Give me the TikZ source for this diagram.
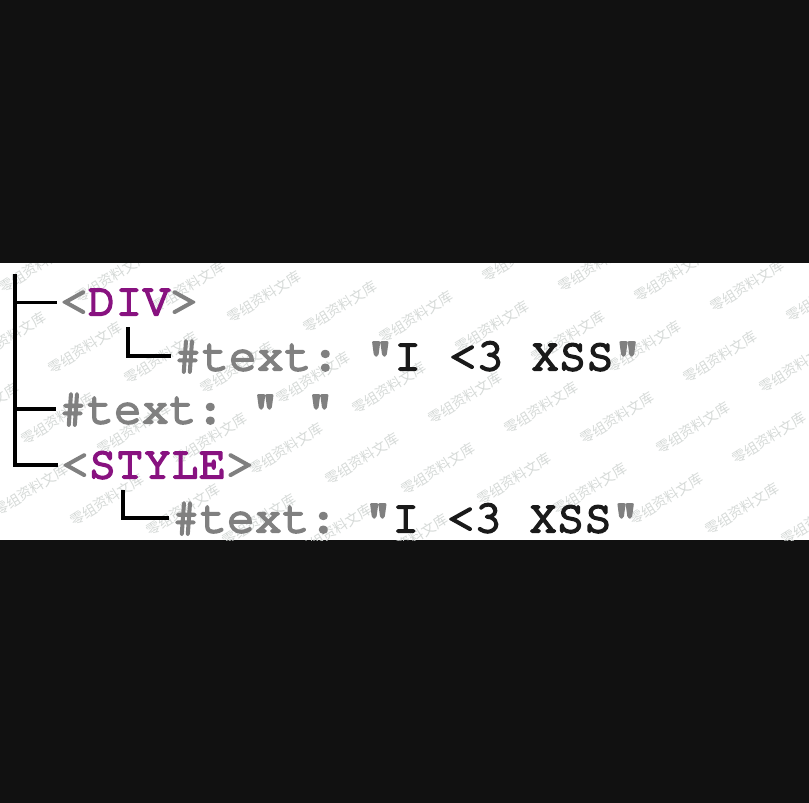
\documentclass[tikz,border=0pt]{standalone}
\usepackage[T1]{fontenc}
\usepackage{fontspec}
\newfontfamily\cjkmark{Noto Sans CJK SC}
\definecolor{bgdark}{HTML}{111111}
\definecolor{paper}{HTML}{FFFFFF}
\definecolor{tagGray}{HTML}{808080}
\definecolor{tagPurple}{HTML}{881280}
\definecolor{ink}{HTML}{1A1A1A}
\definecolor{treeInk}{HTML}{000000}
\definecolor{markInk}{HTML}{D6DAD8}
% Courier, regular cut, thickened by stroking the glyph outlines
\newcommand\codefont{\fontencoding{T1}\fontfamily{pcr}\fontseries{m}\fontshape{n}\fontsize{45.8}{50}\selectfont\frenchspacing}
\newcommand\heavy[1]{\special{pdf:literal direct 2 Tr 2.2 w 1 j}#1\special{pdf:literal direct 0 Tr}}
\newcommand\gr[1]{\textcolor{tagGray}{\heavy{#1}}}
\newcommand\pu[1]{\textcolor{tagPurple}{\heavy{#1}}}
\newcommand\bk[1]{\textcolor{ink}{\heavy{#1}}}
\begin{document}
\begin{tikzpicture}[x=1pt,y=-1pt,
  treeline/.style={draw=treeInk,line width=3.8pt,shorten >=3pt},
  code/.style={anchor=base west,inner sep=0pt,font=\codefont},
  wmark/.style={rotate=32,inner sep=0pt,text=markInk,font=\cjkmark\fontsize{14}{14}\selectfont}]
  % page and the white strip
  \fill[bgdark] (0,0) rectangle (809,803);
  \fill[paper] (0,263) rectangle (809,540);
  \useasboundingbox (0,0) rectangle (809,803);

  % faint repeated stamp on the strip
  \begin{scope}
    \clip (0,263) rectangle (809,540);
    \foreach \i in {-12,...,5}{
      \foreach \j in {-4,...,4}{
        \pgfmathsetmacro\wx{617+76*\i-27*\j}
        \pgfmathsetmacro\wy{418+10*\i+71*\j}
        \pgfmathtruncatemacro\keep{(\wx>-30)&&(\wx<840)&&(\wy>255)&&(\wy<550)}
        \ifnum\keep=1
          \node[wmark] at (\wx,\wy) {零组资料文库};
        \fi
      }
    }
  \end{scope}

  % tree entries
  \node[code] (div)   at (60,315) {\gr{<}\pu{DIV}\gr{>}};
  \node[code] (txta)  at (174,370) {\gr{\#text: "}\bk{I <3 XSS}\gr{"}};
  \node[code] (txtb)  at (59,423) {\gr{\#text: " "}};
  \node[code] (style) at (61,478) {\gr{<}\pu{STYLE}\gr{>}};
  \node[code] (txtc)  at (172,532) {\gr{\#text: "}\bk{I <3 XSS}\gr{"}};

  % connectors
  \coordinate (root)   at (15,274);
  \coordinate (divleg) at (128,327);
  \coordinate (styleg) at (123,490);
  \draw[treeline] (root) |- (div.west);
  \draw[treeline] (root) |- (txtb.west);
  \draw[treeline] (root) |- (style.west);
  \draw[treeline] (divleg) |- (txta.west);
  \draw[treeline] (styleg) |- (txtc.west);
\end{tikzpicture}
\end{document}
